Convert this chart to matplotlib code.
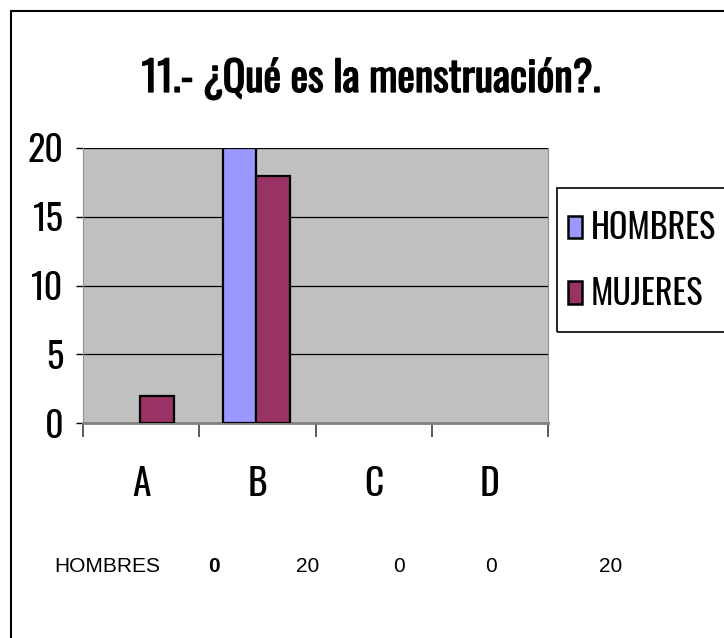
import matplotlib
matplotlib.use('Agg')
import matplotlib.pyplot as plt
import matplotlib.patheffects as pe
from matplotlib import font_manager
from matplotlib.patches import Rectangle, Patch
import numpy as np

categories = ['A', 'B', 'C', 'D']
hombres = [0, 20, 0, 0]
mujeres = [2, 18, 0, 0]
series_names = ['HOMBRES', 'MUJERES']
table_row = ['HOMBRES', '0', '20', '0', '0', '20']
title = '11.- ¿Qué es la menstruación?.'

# tall, condensed sans faces, closest first
cond_choices = ['Oswald', 'Liberation Sans Narrow', 'Arial Narrow',
                'Archivo Narrow', 'Roboto Condensed', 'PT Sans Narrow',
                'Open Sans Condensed']
names = {f.name for f in font_manager.fontManager.ttflist}
cond_font = next((n for n in cond_choices if n in names), 'DejaVu Sans')

W, H = 724, 638
fig = plt.figure(figsize=(W / 100, H / 100), dpi=100)
renderer = fig.canvas.get_renderer()

# outer chart frame (only left and top edges visible)
fig.patches.append(Rectangle((10.5 / W, -0.2), 1.2, 1.2 - 10.5 / H,
                             transform=fig.transFigure, fill=False,
                             edgecolor='black', linewidth=1.5))

ax = fig.add_axes([83 / W, 1 - 423 / H, (548 - 83) / W, (423 - 148) / H])
ax.set_facecolor('#C0C0C0')

x = np.arange(len(categories))
w = 0.29
lw_h = [1.6 if v > 0 else 0 for v in hombres]
lw_m = [1.6 if v > 0 else 0 for v in mujeres]
ax.bar(x - 0.155, hombres, w, color='#9999FF', edgecolor='black', linewidth=lw_h,
       label=series_names[0], zorder=3)
ax.bar(x + 0.135, mujeres, w, color='#993366', edgecolor='black', linewidth=lw_m,
       label=series_names[1], zorder=3)

ax.set_xlim(-0.5, len(categories) - 0.5)
ax.set_ylim(0, 20)
ax.set_yticks([0, 5, 10, 15, 20])
ax.grid(axis='y', color='black', linewidth=0.9, zorder=1)
ax.set_axisbelow(True)

ax.set_xticks(x)
ax.set_xticklabels(categories, fontsize=27, family=cond_font, fontweight='light')
ax.set_xticks(np.arange(-0.5, len(categories)), minor=True)
ax.tick_params(axis='x', which='major', length=0, pad=31)
ax.tick_params(axis='x', which='minor', length=10, width=1.2, color='#404040')
ax.tick_params(axis='y', length=5, width=1, pad=9)
for lab in ax.get_yticklabels():
    lab.set_fontsize(26)
    lab.set_fontfamily(cond_font)
    lab.set_fontweight('light')

ax.spines['top'].set_visible(False)
ax.spines['bottom'].set_color('#808080')
ax.spines['bottom'].set_linewidth(2)
ax.spines['left'].set_color('#909090')
ax.spines['right'].set_color('#909090')

# title, sized so that it spans the same width as in the source chart;
# a thin stroke thickens it to a bold look
t = fig.text(371 / W, 1 - 92 / H, title, ha='center', va='baseline',
             fontsize=20, fontweight='bold', family=cond_font)
tw = t.get_window_extent(renderer).width
t.set_fontsize(min(42, 20 * 460 / tw))
t.set_path_effects([pe.withStroke(linewidth=0.9, foreground='black')])

# legend, label size chosen so "HOMBRES" is about 125 px wide
probe = fig.text(0, 0, series_names[0], fontsize=20, family=cond_font,
                 fontweight='light')
pw = probe.get_window_extent(renderer).width
probe.remove()
lsize = min(28, 20 * 125 / pw)
em = lsize * 100 / 72
handles = [Patch(facecolor='#9999FF', edgecolor='black', linewidth=1.8),
           Patch(facecolor='#993366', edgecolor='black', linewidth=1.8)]
fig.legend(handles, series_names, loc='upper left',
           bbox_to_anchor=(568 / W, 1 - 211 / H),
           prop=dict(size=lsize, family=cond_font, weight='light'),
           handlelength=14 / em, handleheight=22 / em,
           handletextpad=9 / em, labelspacing=(81 - 1.45 * em) / em,
           borderpad=0, borderaxespad=0, frameon=False)
# legend box (runs past the right edge like in the source)
fig.patches.append(Rectangle((557 / W, 1 - 332 / H), 180 / W, 144 / H,
                             transform=fig.transFigure, fill=False,
                             edgecolor='black', linewidth=1.2))

# data table row below the chart
row_x = [107, 214, 308, 399, 491, 611]
for i, (txt, px) in enumerate(zip(table_row, row_x)):
    fig.text(px / W, 1 - 567 / H, txt, ha='center', va='center', fontsize=15,
             fontweight='bold' if i == 1 else 'normal', family='Liberation Sans')

fig.savefig('out.png', dpi=100)
